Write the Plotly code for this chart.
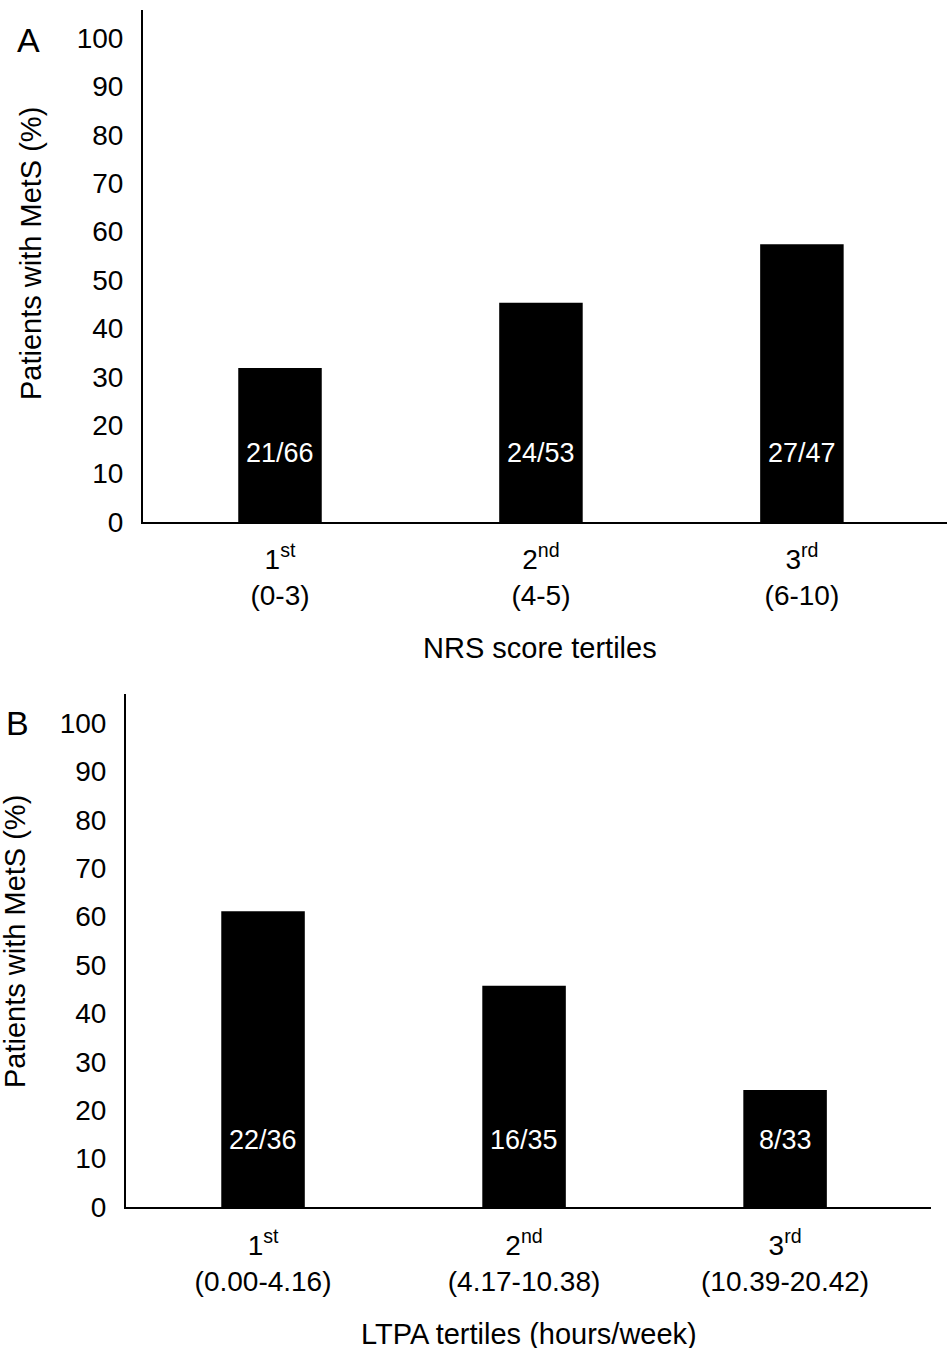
import plotly.graph_objects as go

# Data
cats_a = ["1<sup>st</sup><br>(0-3)", "2<sup>nd</sup><br>(4-5)", "3<sup>rd</sup><br>(6-10)"]
vals_a = [31.8, 45.3, 57.4]
labels_a = ["21/66", "24/53", "27/47"]

cats_b = ["1<sup>st</sup><br>(0.00-4.16)", "2<sup>nd</sup><br>(4.17-10.38)", "3<sup>rd</sup><br>(10.39-20.42)"]
vals_b = [61.1, 45.7, 24.2]
labels_b = ["22/36", "16/35", "8/33"]

ytick_vals = list(range(0, 101, 10))
FONT = "Liberation Sans, Arial, sans-serif"
W, H = 948, 1348
FIG_H = 1364

fig = go.Figure()
pos = [0, 1, 2]
fig.add_trace(go.Bar(x=pos, y=vals_a, width=0.32, marker=dict(color="black", line=dict(width=0)),
                     xaxis="x", yaxis="y", showlegend=False, hoverinfo="skip"))
fig.add_trace(go.Bar(x=pos, y=vals_b, width=0.32, marker=dict(color="black", line=dict(width=0)),
                     xaxis="x2", yaxis="y2", showlegend=False, hoverinfo="skip"))

def px_x(p):
    return p / W

def px_y(p):
    return 1 - p / H

axis_common = dict(showgrid=False, zeroline=False, showline=True, linecolor="black", linewidth=2,
                   ticks="", tickfont=dict(family=FONT, size=28, color="black"))

fig.update_layout(
    width=W, height=FIG_H,
    margin=dict(l=0, r=0, t=0, b=0),
    paper_bgcolor="white", plot_bgcolor="white",
    font=dict(family=FONT, color="black"),
    xaxis=dict(domain=[px_x(143), px_x(947)], range=[-0.525, 2.556], anchor="y",
               tickvals=pos, ticktext=cats_a, ticklabelstandoff=11, **axis_common),
    yaxis=dict(domain=[px_y(522), px_y(10)], range=[0, 105.8], anchor="x",
               tickvals=ytick_vals, ticklabelstandoff=12, **axis_common),
    xaxis2=dict(domain=[px_x(126), px_x(931)], range=[-0.525, 2.559], anchor="y2",
                tickvals=pos, ticktext=cats_b, ticklabelstandoff=12, **axis_common),
    yaxis2=dict(domain=[px_y(1207), px_y(694)], range=[0, 106], anchor="x2",
                tickvals=ytick_vals, ticklabelstandoff=12, **axis_common),
)

ann = []
for i, t in enumerate(labels_a):
    ann.append(dict(x=pos[i], y=14.3, xref="x", yref="y", text=t, showarrow=False,
                    xanchor="center", yanchor="middle",
                    font=dict(family=FONT, size=27, color="white")))
for i, t in enumerate(labels_b):
    ann.append(dict(x=pos[i], y=13.8, xref="x2", yref="y2", text=t, showarrow=False,
                    xanchor="center", yanchor="middle",
                    font=dict(family=FONT, size=27, color="white")))

def paper_text(x, y, text, size, angle=0):
    return dict(x=px_x(x), y=px_y(y), xref="paper", yref="paper", text=text, textangle=angle,
                showarrow=False, xanchor="center", yanchor="middle",
                font=dict(family=FONT, size=size, color="black"))

ann += [
    paper_text(31, 254, "Patients with MetS (%)", 29, -90),
    paper_text(540, 648, "NRS score tertiles", 29),
    paper_text(15, 942, "Patients with MetS (%)", 29, -90),
    paper_text(529, 1334, "LTPA tertiles (hours/week)", 29),
    paper_text(28, 40, "A", 34),
    paper_text(17, 723, "B", 34),
]
fig.update_layout(annotations=ann)

post = ("document.documentElement.style.margin='0';"
        "document.documentElement.style.overflow='hidden';"
        "document.body.style.margin='0';"
        "document.body.style.overflow='hidden';")
fig.write_html("out.html", post_script=post, config={"displayModeBar": False})
